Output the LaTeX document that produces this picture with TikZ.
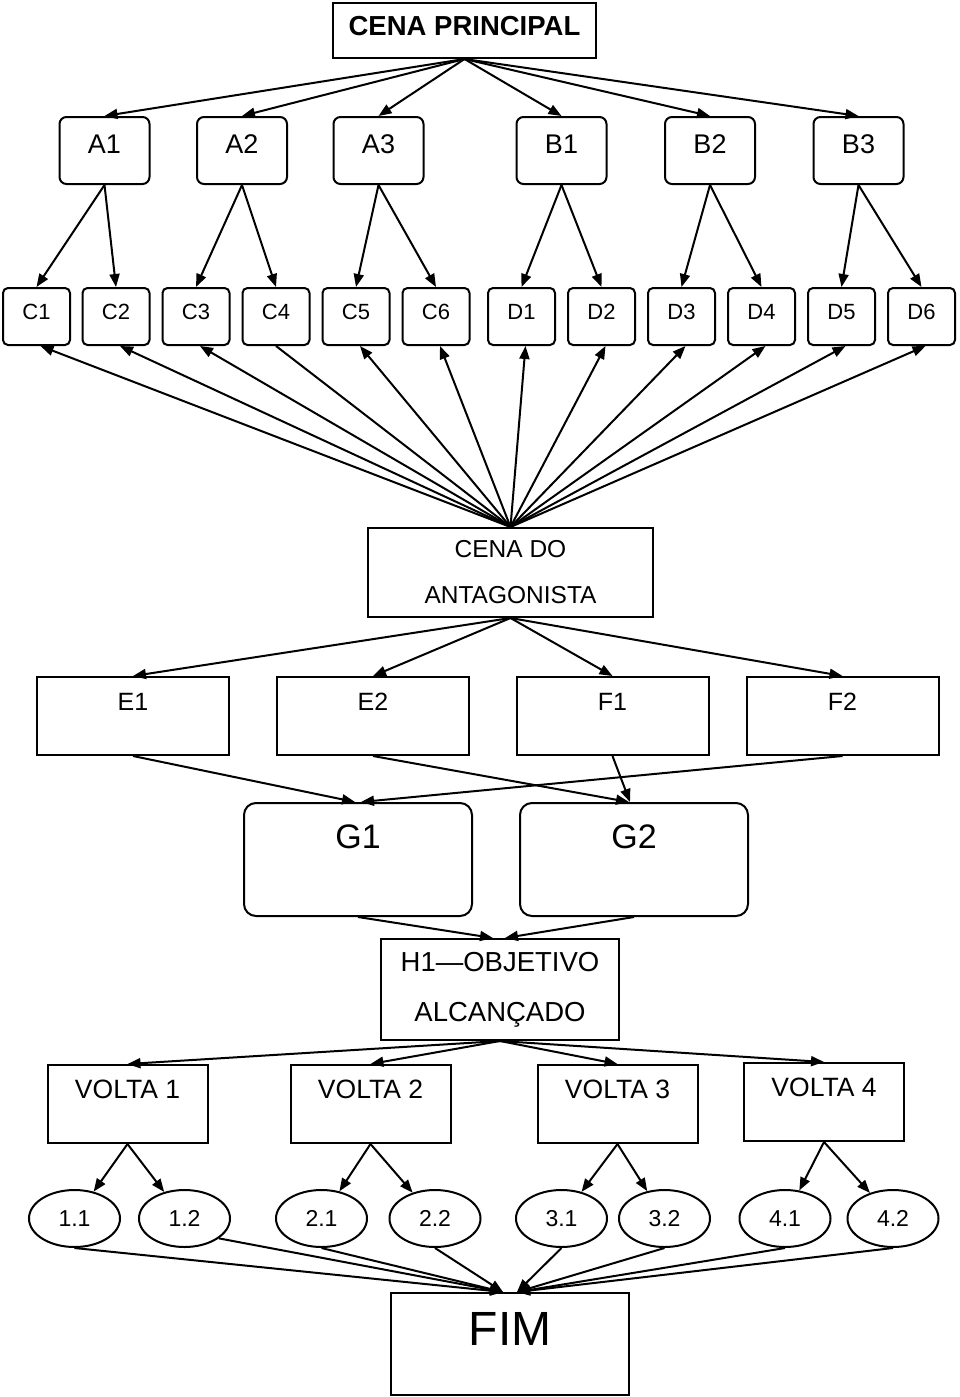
\documentclass[tikz,border=0pt]{standalone}
\usepackage{fontspec}
\setmainfont{Liberation Sans}
\usetikzlibrary{arrows.meta,shapes.geometric}
\begin{document}
\begin{tikzpicture}[x=1pt,y=-1pt,
  every node/.style={inner sep=0pt, line width=2pt},
  arr/.style={line width=2pt, -{Triangle[length=13pt,width=10pt]}},
  plainline/.style={line width=2pt},
  topbox/.style={draw, rectangle, anchor=north, minimum width=263pt, text height=33pt, text depth=22pt, font=\fontsize{27.5}{33}\bfseries\selectfont},
  abox/.style={draw, rounded corners=7pt, anchor=north, minimum width=90pt, text height=36pt, text depth=31pt, font=\fontsize{27}{32}\selectfont},
  cbox/.style={draw, rounded corners=5pt, anchor=north, minimum width=67pt, text height=31pt, text depth=26pt, font=\fontsize{22}{26}\selectfont},
  twoline/.style={draw, align=center},
  ebox/.style={draw, anchor=north, minimum width=192pt, text height=33pt, text depth=45pt, font=\fontsize{25}{30}\selectfont},
  gbox/.style={draw, rounded corners=12pt, anchor=north, minimum width=228pt, text height=45pt, text depth=68pt, font=\fontsize{34}{40}\selectfont},
  voltabox/.style={draw, anchor=north, minimum width=160pt, text height=33pt, text depth=45pt, font=\fontsize{26.5}{31}\selectfont},
  ell/.style={draw, ellipse, minimum width=91pt, minimum height=57pt, font=\fontsize{23}{27}\selectfont},
  fimbox/.style={draw, anchor=north, minimum width=238pt, text height=52pt, text depth=50pt, font=\fontsize{48}{54}\selectfont}
]
\useasboundingbox (0,0) rectangle (960,1397);

% top
\node[topbox] (top) at (464.5,2) {CENA PRINCIPAL};

% A/B row
\node[abox] (A1) at (104.5,116) {A1};
\node[abox] (A2) at (242,116) {A2};
\node[abox] (A3) at (378.5,116) {A3};
\node[abox] (B1) at (561.5,116) {B1};
\node[abox] (B2) at (710,116) {B2};
\node[abox] (B3) at (858.5,116) {B3};

% C/D row
\node[cbox] (C1) at (36.5,287) {C1};
\node[cbox] (C2) at (116,287) {C2};
\node[cbox] (C3) at (196,287) {C3};
\node[cbox] (C4) at (276,287) {C4};
\node[cbox] (C5) at (356,287) {C5};
\node[cbox] (C6) at (436,287) {C6};
\node[cbox] (D1) at (521.5,287) {D1};
\node[cbox] (D2) at (601.5,287) {D2};
\node[cbox] (D3) at (681.5,287) {D3};
\node[cbox] (D4) at (761.5,287) {D4};
\node[cbox] (D5) at (841.5,287) {D5};
\node[cbox] (D6) at (921.5,287) {D6};

% antagonist
\node[twoline, minimum width=285pt, minimum height=89pt, font=\fontsize{24.5}{46}\selectfont] (ant) at (510.5,572.5) {CENA DO\\ANTAGONISTA};

% E/F row
\node[ebox] (E1) at (133,676) {E1};
\node[ebox] (E2) at (373,676) {E2};
\node[ebox] (F1) at (612.5,676) {F1};
\node[ebox] (F2) at (842.5,676) {F2};

% G row
\node[gbox] (G1) at (358,802) {G1};
\node[gbox] (G2) at (634,802) {G2};

% H1
\node[twoline, minimum width=238pt, minimum height=101pt, font=\fontsize{27.5}{50}\selectfont] (H1) at (500,989.5) {H1—OBJETIVO\\ALCANÇADO};

% VOLTA row
\node[voltabox] (V1) at (127.5,1064) {VOLTA 1};
\node[voltabox] (V2) at (370.5,1064) {VOLTA 2};
\node[voltabox] (V3) at (617.5,1064) {VOLTA 3};
\node[voltabox] (V4) at (824,1062) {VOLTA 4};

% ellipses
\node[ell] (e11) at (74.5,1218.5) {1.1};
\node[ell] (e12) at (184.5,1218.5) {1.2};
\node[ell] (e21) at (321.5,1218.5) {2.1};
\node[ell] (e22) at (435,1218.5) {2.2};
\node[ell] (e31) at (561.5,1218.5) {3.1};
\node[ell] (e32) at (664.5,1218.5) {3.2};
\node[ell] (e41) at (785,1218.5) {4.1};
\node[ell] (e42) at (893,1218.5) {4.2};

% FIM
\node[fimbox] (fim) at (510,1292) {FIM};

% connectors: top -> A/B
\foreach \n in {A1,A2,A3,B1,B2,B3}
  \draw[arr] (top.south) -- (\n.north);

% A/B -> C/D
\draw[arr] (A1.south) -- (C1.north);
\draw[arr] (A1.south) -- (C2.north);
\draw[arr] (A2.south) -- (C3.north);
\draw[arr] (A2.south) -- (C4.north);
\draw[arr] (A3.south) -- (C5.north);
\draw[arr] (A3.south) -- (C6.north);
\draw[arr] (B1.south) -- (D1.north);
\draw[arr] (B1.south) -- (D2.north);
\draw[arr] (B2.south) -- (D3.north);
\draw[arr] (B2.south) -- (D4.north);
\draw[arr] (B3.south) -- (D5.north);
\draw[arr] (B3.south) -- (D6.north);

% antagonist -> C/D
\foreach \n in {C1,C2,C3,C5,C6,D1,D2,D3,D4,D5,D6}
  \draw[arr] (ant.north) -- ([xshift=4pt]\n.south);
\draw[plainline] (ant.north) -- (C4.south);

% antagonist -> E/F
\foreach \n in {E1,E2,F1,F2}
  \draw[arr] (ant.south) -- (\n.north);

% E/F -> G
\draw[arr] (E1.south) -- ([xshift=-3pt]G1.north);
\draw[arr] (F2.south) -- ([xshift=3pt]G1.north);
\draw[arr] (E2.south) -- ([xshift=-5pt]G2.north);
\draw[arr] (F1.south) -- ([xshift=-4pt]G2.north);

% G -> H1
\draw[arr] (G1.south) -- ([xshift=-7pt]H1.north);
\draw[arr] (G2.south) -- ([xshift=5pt]H1.north);

% H1 -> VOLTA
\foreach \n in {V1,V2,V3,V4}
  \draw[arr] (H1.south) -- (\n.north);

% VOLTA -> ellipses
\draw[arr] (V1.south) -- (e11);
\draw[arr] (V1.south) -- (e12);
\draw[arr] (V2.south) -- (e21);
\draw[arr] (V2.south) -- (e22);
\draw[arr] (V3.south) -- (e31);
\draw[arr] (V3.south) -- (e32);
\draw[arr] (V4.south) -- (e41);
\draw[arr] (V4.south) -- (e42);

% ellipses -> FIM
\draw[arr] (e11.south) -- ([xshift=-7pt]fim.north);
\draw[arr] (e12.-30) -- ([xshift=-7pt]fim.north);
\draw[arr] (e21.south) -- ([xshift=-7pt]fim.north);
\draw[arr] (e22.south) -- ([xshift=-7pt]fim.north);
\draw[arr] (e31.south) -- ([xshift=7pt]fim.north);
\draw[arr] (e32.south) -- ([xshift=7pt]fim.north);
\draw[arr] (e41.south) -- ([xshift=7pt]fim.north);
\draw[arr] (e42.south) -- ([xshift=7pt]fim.north);
\end{tikzpicture}
\end{document}
